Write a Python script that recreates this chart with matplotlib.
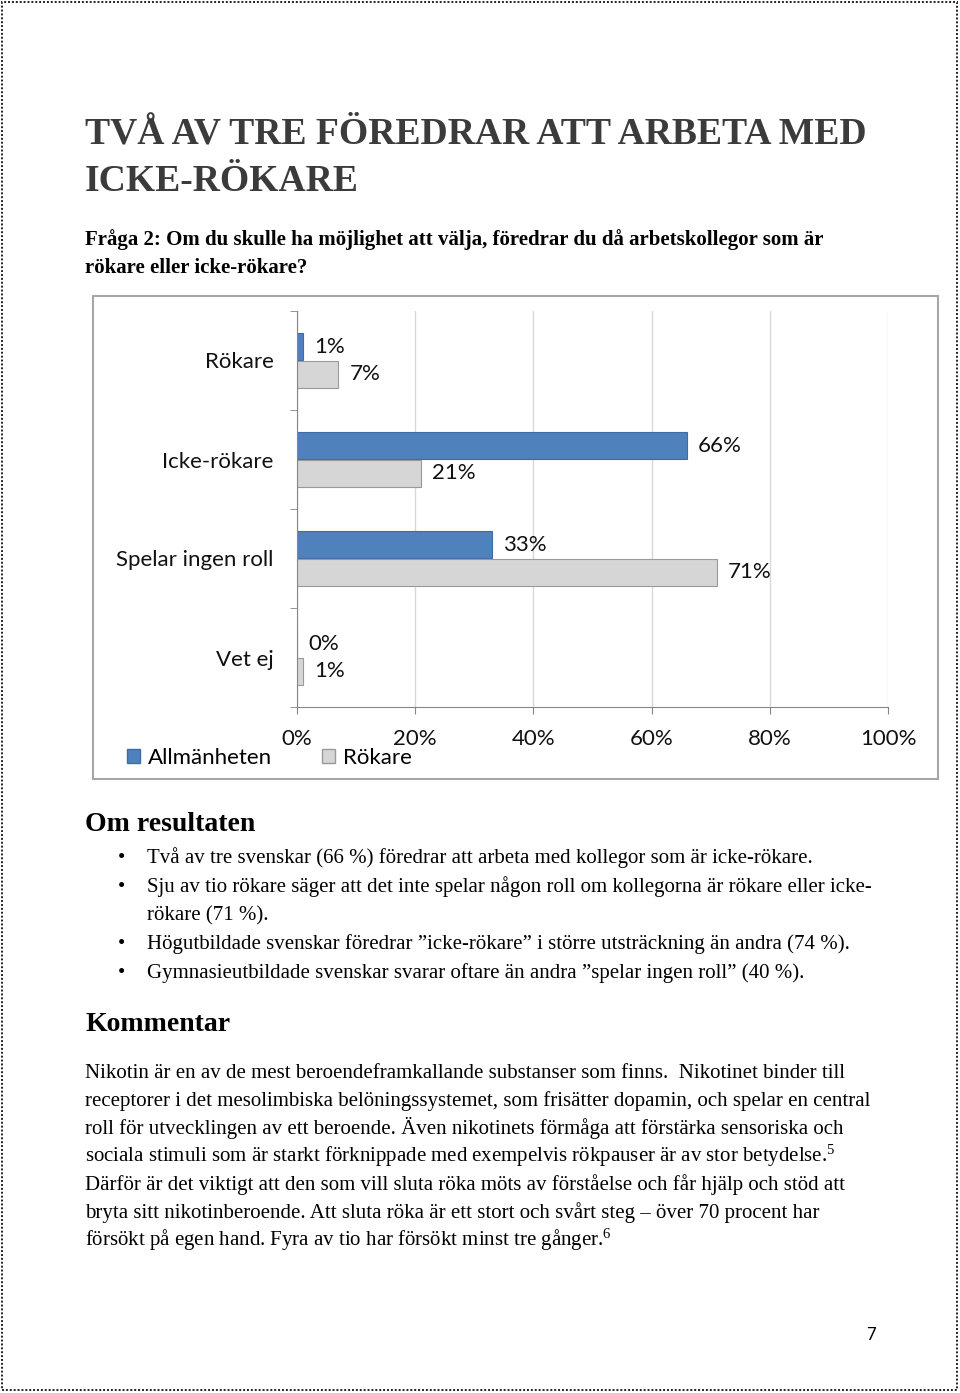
import numpy as np
import matplotlib
matplotlib.use("Agg")
import matplotlib.pyplot as plt
from matplotlib.patches import Rectangle, Patch
from matplotlib.ticker import FixedLocator, PercentFormatter

# data
categories = ["Rökare", "Icke-rökare", "Spelar ingen roll", "Vet ej"]
allmanheten = [1, 66, 33, 0]
rokare = [7, 21, 71, 1]
series_names = ["Allmänheten", "Rökare"]
x_ticks = [0, 20, 40, 60, 80, 100]

title_lines = ["TVÅ AV TRE FÖREDRAR ATT ARBETA MED", "ICKE-RÖKARE"]
question_lines = [
    "Fråga 2: Om du skulle ha möjlighet att välja, föredrar du då arbetskollegor som är",
    "rökare eller icke-rökare?",
]
bullets = [
    ["Två av tre svenskar (66 %) föredrar att arbeta med kollegor som är icke-rökare."],
    ["Sju av tio rökare säger att det inte spelar någon roll om kollegorna är rökare eller icke-",
     "rökare (71 %)."],
    ["Högutbildade svenskar föredrar \u201dicke-rökare\u201d i större utsträckning än andra (74 %)."],
    ["Gymnasieutbildade svenskar svarar oftare än andra \u201dspelar ingen roll\u201d (40 %)."],
]
comment_lines = [
    "Nikotin är en av de mest beroendeframkallande substanser som finns.  Nikotinet binder till",
    "receptorer i det mesolimbiska belöningssystemet, som frisätter dopamin, och spelar en central",
    "roll för utvecklingen av ett beroende. Även nikotinets förmåga att förstärka sensoriska och",
    "sociala stimuli som är starkt förknippade med exempelvis rökpauser är av stor betydelse.$^{5}$",
    "Därför är det viktigt att den som vill sluta röka möts av förståelse och får hjälp och stöd att",
    "bryta sitt nikotinberoende. Att sluta röka är ett stort och svårt steg \u2013 över 70 procent har",
    "försökt på egen hand. Fyra av tio har försökt minst tre gånger.$^{6}$",
]

plt.rcParams["mathtext.fontset"] = "custom"
plt.rcParams["mathtext.rm"] = "Liberation Serif"
plt.rcParams["mathtext.it"] = "Liberation Serif"

W, H = 960, 1393
fig = plt.figure(figsize=(W / 100, H / 100), dpi=100)


def px(x, y):
    return x / W, 1 - y / H


serif = "Liberation Serif"
sans = "Lato"
body = 15

# page border (dotted)
fig.patches.append(Rectangle(px(2, 1390), 955 / W, 1388 / H, transform=fig.transFigure,
                             fill=False, ec="#222222", lw=1.4, ls=(0, (1, 1))))

# heading
for i, line in enumerate(title_lines):
    fig.text(*px(85, 143 + i * 48), line, family=serif, weight="bold", size=27.1,
             color="#3b3b3b", va="baseline")
for i, line in enumerate(question_lines):
    fig.text(*px(85, 245 + i * 28), line, family=serif, weight="bold", size=15,
             va="baseline")

# chart frame
fig.patches.append(Rectangle(px(93, 779), 845 / W, 483 / H, transform=fig.transFigure,
                             fill=False, ec="#a6a6a6", lw=1.5))

ax = fig.add_axes([297 / W, 1 - 707 / H, 591 / W, 396 / H])
y = np.arange(len(categories))
h = 0.27
b1 = ax.barh(y - 0.14, allmanheten, height=h, color="#4f81bd", edgecolor="#3d6da6", lw=0.8)
b2 = ax.barh(y + 0.14, rokare, height=h, color="#d6d6d6", edgecolor="#9a9a9a", lw=0.8)

for bars, vals in ((b1, allmanheten), (b2, rokare)):
    for bar, v in zip(bars, vals):
        ax.annotate(f"{v}%", (bar.get_width(), bar.get_y() + bar.get_height() / 2),
                    xytext=(8, 0), textcoords="offset points", va="center", ha="left",
                    family=sans, size=16, color="#111111")

ax.set_xlim(0, 100)
ax.set_ylim(len(categories) - 0.5, -0.5)
ax.set_yticks(y)
ax.set_yticklabels(categories)
ax.yaxis.set_minor_locator(FixedLocator(np.arange(-0.5, len(categories), 1)))
ax.set_xticks(x_ticks)
ax.xaxis.set_major_formatter(PercentFormatter(decimals=0))
ax.tick_params(axis="y", which="major", length=0, pad=17)
ax.tick_params(axis="y", which="minor", length=5, color="#868686", direction="out")
ax.tick_params(axis="x", length=5, color="#868686", pad=11)
for lab in ax.get_xticklabels() + ax.get_yticklabels():
    lab.set_family(sans)
    lab.set_fontsize(16)
    lab.set_color("#111111")
ax.grid(axis="x", color="#d9d9d9", lw=1)
ax.set_axisbelow(True)
for s in ("top", "right"):
    ax.spines[s].set_visible(False)
for s in ("left", "bottom"):
    ax.spines[s].set_color("#868686")

handles = [Patch(facecolor="#4f81bd", edgecolor="#3d6da6"),
           Patch(facecolor="#d6d6d6", edgecolor="#9a9a9a")]
fig.legend(handles, series_names, loc="center left", bbox_to_anchor=px(127, 758),
           ncol=2, frameon=False, prop={"family": sans, "size": 16},
           borderpad=0, borderaxespad=0,
           handlelength=0.58, handleheight=0.58, handletextpad=0.36, columnspacing=2.25)

# text below the chart
fig.text(*px(85, 831), "Om resultaten", family=serif, weight="bold", size=20, va="baseline")
yy = 863
for item in bullets:
    fig.text(*px(118, yy), "\u2022", family=serif, size=body, va="baseline")
    for line in item:
        fig.text(*px(147, yy), line, family=serif, size=body, va="baseline")
        yy += 28
    yy += 1

fig.text(*px(85, 1031), "Kommentar", family=serif, weight="bold", size=20, va="baseline")
for i, line in enumerate(comment_lines):
    fig.text(*px(85, 1078 + i * 28), line, family=serif, size=body, va="baseline")

fig.text(*px(871, 1335), "7", family=sans, size=12, ha="center", va="center")

fig.savefig("out.png", dpi=100)
